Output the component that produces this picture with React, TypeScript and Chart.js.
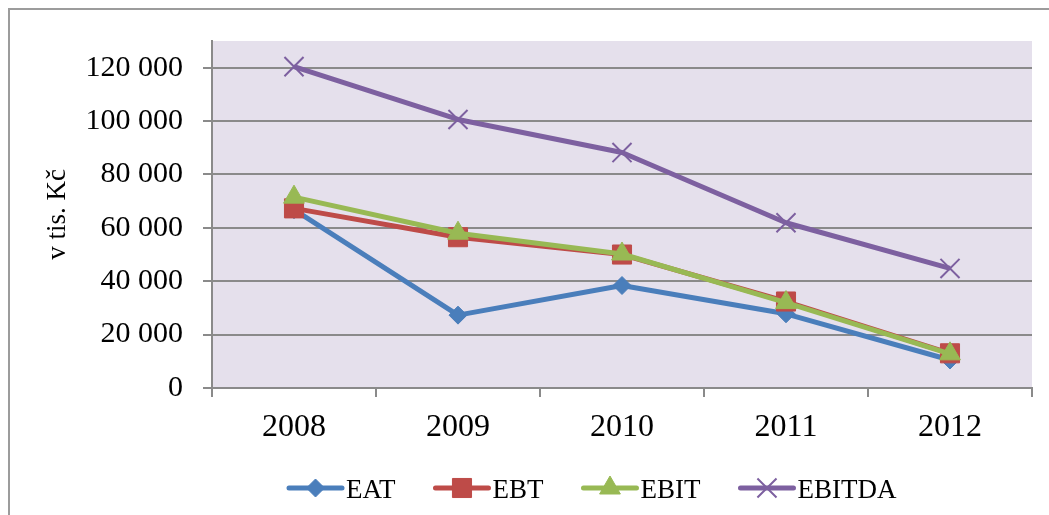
import React, { useEffect, useRef } from 'react';
import { Chart, registerables } from 'chart.js';
import { drawPoint } from 'chart.js/helpers';

Chart.register(...registerables);

// Categories (years) and series values, in thousands of CZK
const years = ['2008', '2009', '2010', '2011', '2012'];
const eat = [66800, 27300, 38400, 27800, 10500];
const ebt = [67300, 56500, 50000, 32400, 13000];
const ebit = [71500, 58000, 50200, 32000, 12800];
const ebitda = [120400, 100600, 88200, 61900, 44800];

const seriesNames = ['EAT', 'EBT', 'EBIT', 'EBITDA'];
const seriesColors = ['#4A7EBB', '#BE4B48', '#98B954', '#7D60A0'];
const yTickValues = [0, 20000, 40000, 60000, 80000, 100000, 120000];
const yAxisTitle = 'v tis. Kč';

const SERIF = "'Times New Roman', 'Liberation Serif', serif";
const GRID = '#8a8a8a';
const PLOT_BG = '#E5E0EC';

const W = 1049;
const H = 515;

function formatThousands(v: number): string {
  return String(v).replace(/\B(?=(\d{3})+(?!\d))/g, ' ');
}

// Lavender fill behind the plotting area
const plotBackground = {
  id: 'plotBackground',
  beforeDraw(chart: any) {
    const { ctx, chartArea } = chart;
    ctx.save();
    ctx.fillStyle = PLOT_BG;
    ctx.fillRect(chartArea.left, chartArea.top, chartArea.right - chartArea.left, chartArea.bottom - chartArea.top);
    ctx.restore();
  },
};

// Legend below the axis: a line sample with the series marker, then the name
const lineLegend = {
  id: 'lineLegend',
  afterDraw(chart: any) {
    const { ctx } = chart;
    const y = 488;
    const lineLen = 57;
    let x = 287;
    ctx.save();
    ctx.font = `27px ${SERIF}`;
    chart.data.datasets.forEach((ds: any) => {
      ctx.strokeStyle = ds.borderColor;
      ctx.lineWidth = 5;
      ctx.lineCap = 'round';
      ctx.beginPath();
      ctx.moveTo(x + 2, y);
      ctx.lineTo(x + lineLen - 2, y);
      ctx.stroke();
      ctx.fillStyle = ds.pointBackgroundColor;
      ctx.strokeStyle = ds.pointBorderColor;
      ctx.lineWidth = ds.pointBorderWidth;
      ctx.lineCap = 'butt';
      drawPoint(ctx, {
        pointStyle: ds.pointStyle,
        radius: ds.pointRadius,
        rotation: 0,
        borderWidth: ds.pointBorderWidth,
      } as any, x + lineLen / 2, y);
      ctx.fillStyle = '#000';
      ctx.textBaseline = 'alphabetic';
      ctx.textAlign = 'left';
      const tx = x + lineLen + 2;
      ctx.fillText(ds.label, tx, y + 10);
      x = tx + ctx.measureText(ds.label).width + 38;
    });
    ctx.restore();
  },
};

function makeDataset(i: number, data: number[], pointStyle: string, radius: number, borderW: number, order: number) {
  return {
    label: seriesNames[i],
    data,
    borderColor: seriesColors[i],
    backgroundColor: seriesColors[i],
    borderWidth: 5,
    borderJoinStyle: 'round',
    pointStyle,
    pointRadius: radius,
    pointBorderWidth: borderW,
    pointBackgroundColor: seriesColors[i],
    pointBorderColor: seriesColors[i],
    tension: 0,
    order,
  };
}

export default function App() {
  const canvasRef = useRef<HTMLCanvasElement | null>(null);

  useEffect(() => {
    const canvas = canvasRef.current;
    if (!canvas) return;
    const chart = new Chart(canvas, {
      type: 'line',
      data: {
        labels: years,
        datasets: [
          makeDataset(0, eat, 'rectRot', 9, 1, 4),
          makeDataset(1, ebt, 'rect', 13.5, 1, 3),
          makeDataset(2, ebit, 'triangle', 12, 1, 2),
          makeDataset(3, ebitda, 'crossRot', 13.5, 2, 1),
        ] as any,
      },
      options: {
        responsive: false,
        animation: false,
        events: [],
        layout: { padding: { top: 41, right: 17, left: 0, bottom: 0 } },
        plugins: {
          legend: { display: false },
          tooltip: { enabled: false },
        },
        scales: {
          x: {
            offset: true,
            grid: {
              offset: true,
              drawOnChartArea: false,
              drawTicks: true,
              tickLength: 9,
              color: GRID,
              lineWidth: 2,
            },
            border: { display: true, color: GRID, width: 2 },
            ticks: {
              color: '#000',
              font: { family: SERIF, size: 32 },
              padding: 11,
              maxRotation: 0,
            },
            afterFit(scale: any) {
              scale.height = 127;
            },
          },
          y: {
            min: 0,
            max: 130000,
            ticks: {
              stepSize: 20000,
              color: '#000',
              font: { family: SERIF, size: 30 },
              padding: 20,
              callback: (v: any) => formatThousands(Number(v)),
            },
            afterBuildTicks(scale: any) {
              scale.ticks = yTickValues.map((value) => ({ value }));
            },
            grid: {
              color: GRID,
              lineWidth: 2,
              drawTicks: true,
              tickLength: 9,
            },
            border: { display: true, color: GRID, width: 2 },
            title: {
              display: true,
              text: yAxisTitle,
              color: '#000',
              font: { family: SERIF, size: 27 },
              padding: { top: 42, bottom: 0 },
            },
            afterFit(scale: any) {
              scale.width = 212;
            },
          },
        },
      },
      plugins: [plotBackground, lineLegend],
    });
    return () => chart.destroy();
  }, []);

  return (
    <div style={{ position: 'fixed', left: 0, top: 0, width: W, height: H, background: '#fff', overflow: 'hidden' }}>
      <div
        style={{
          position: 'absolute',
          left: 8,
          top: 8,
          right: 0,
          bottom: 0,
          borderLeft: '2px solid #9c9c9c',
          borderTop: '2px solid #9c9c9c',
        }}
      />
      <canvas ref={canvasRef} width={W} height={H} style={{ position: 'absolute', left: 0, top: 0, display: 'block' }} />
    </div>
  );
}
